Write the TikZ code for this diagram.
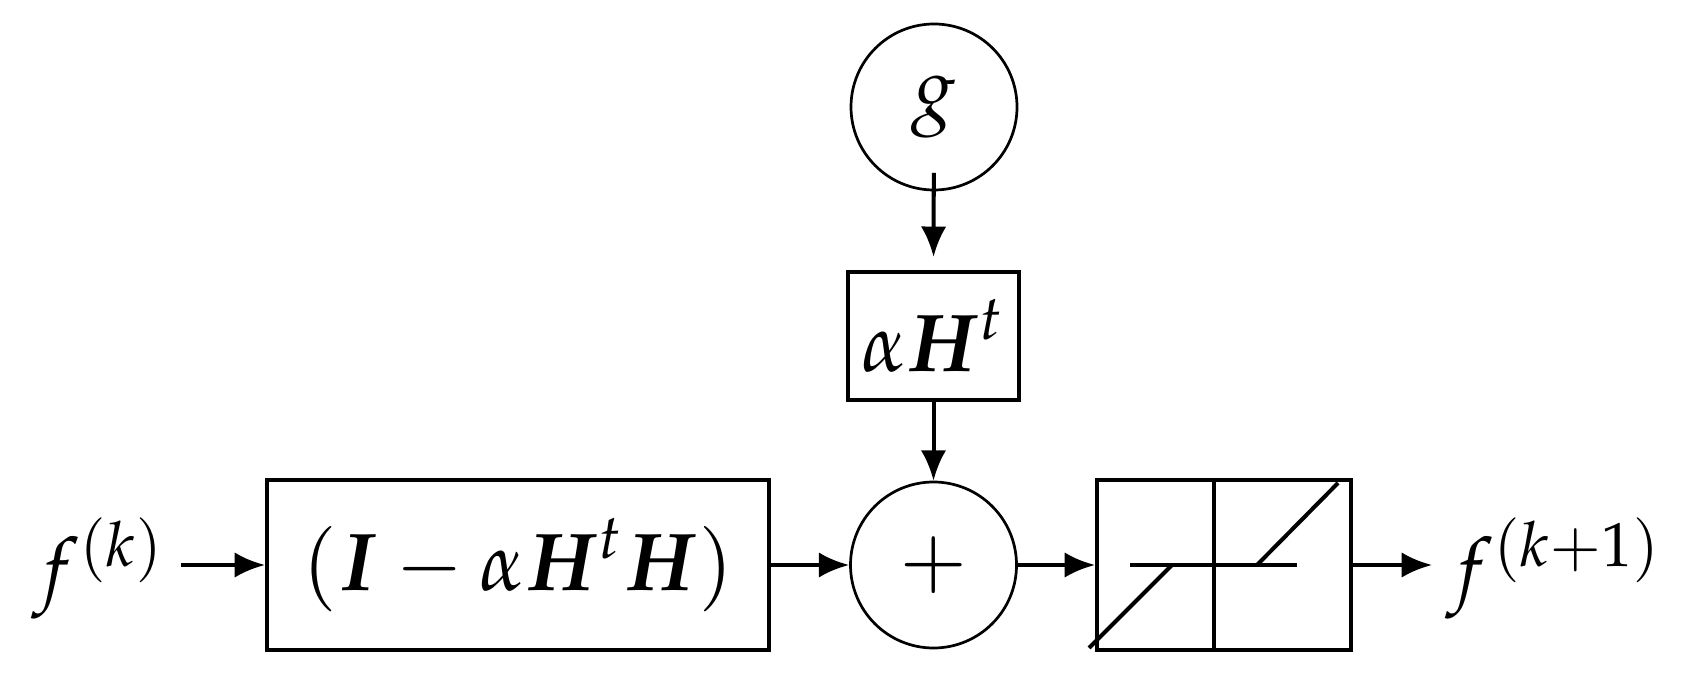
\documentclass[tikz,border=0pt]{standalone}
\usepackage{amsmath}
\usepackage{mathpazo}
\usetikzlibrary{arrows.meta}
\begin{document}
\begin{tikzpicture}[x=0.12195pt,y=-0.12195pt,
  box/.style={draw,line width=0.49pt,inner sep=0pt},
  circ/.style={draw,circle,line width=0.33pt,minimum size=166*0.12195pt,inner sep=0pt},
  arr/.style={line width=0.49pt,-{Latex[length=3.7pt,width=3.1pt]}},
  lbl/.style={inner sep=0pt,inner xsep=1.6pt,anchor=base west},
  nlline/.style={line width=0.49pt}]
\useasboundingbox (0,0) rectangle (1682,691);
\node[circ] (g) at (934,107) {$g$};
\node[box,minimum width=171*0.12195pt,minimum height=128*0.12195pt] (ah) at (933.5,336) {$\alpha\boldsymbol{H}^t$};
\node[circ] (plus) at (933.5,565) {$+$};
\node[box,minimum width=502*0.12195pt,minimum height=170*0.12195pt] (big) at (518,565) {$(\boldsymbol{I}-\alpha\boldsymbol{H}^t\boldsymbol{H})$};
\node[box,minimum width=254*0.12195pt,minimum height=170*0.12195pt] (nl) at (1224,565) {};
\node[lbl] (fk) at (18,596) {$f^{(k)}$};
\node[lbl] (fk1) at (1432,596) {$f^{(k+1)}$};
% nonlinearity symbol
\draw[nlline] (1214,481) -- (1214,650);
\draw[nlline] (1130,565) -- (1297,565);
\draw[nlline] (1089,648) -- (1172,565);
\draw[nlline] (1257,565) -- (1338,483);
% connectors
\draw[arr,shorten <=66*0.12195pt,shorten >=1.6pt] (g.center) -- (ah.north);
\draw[arr] (ah.south) -- (plus.north);
\draw[arr] (fk.east |- big.west) -- (big.west);
\draw[arr] (big.east) -- (plus.west);
\draw[arr] (plus.east) -- (nl.west);
\draw[arr] (nl.east) -- (fk1.west |- nl.east);
\end{tikzpicture}
\end{document}
